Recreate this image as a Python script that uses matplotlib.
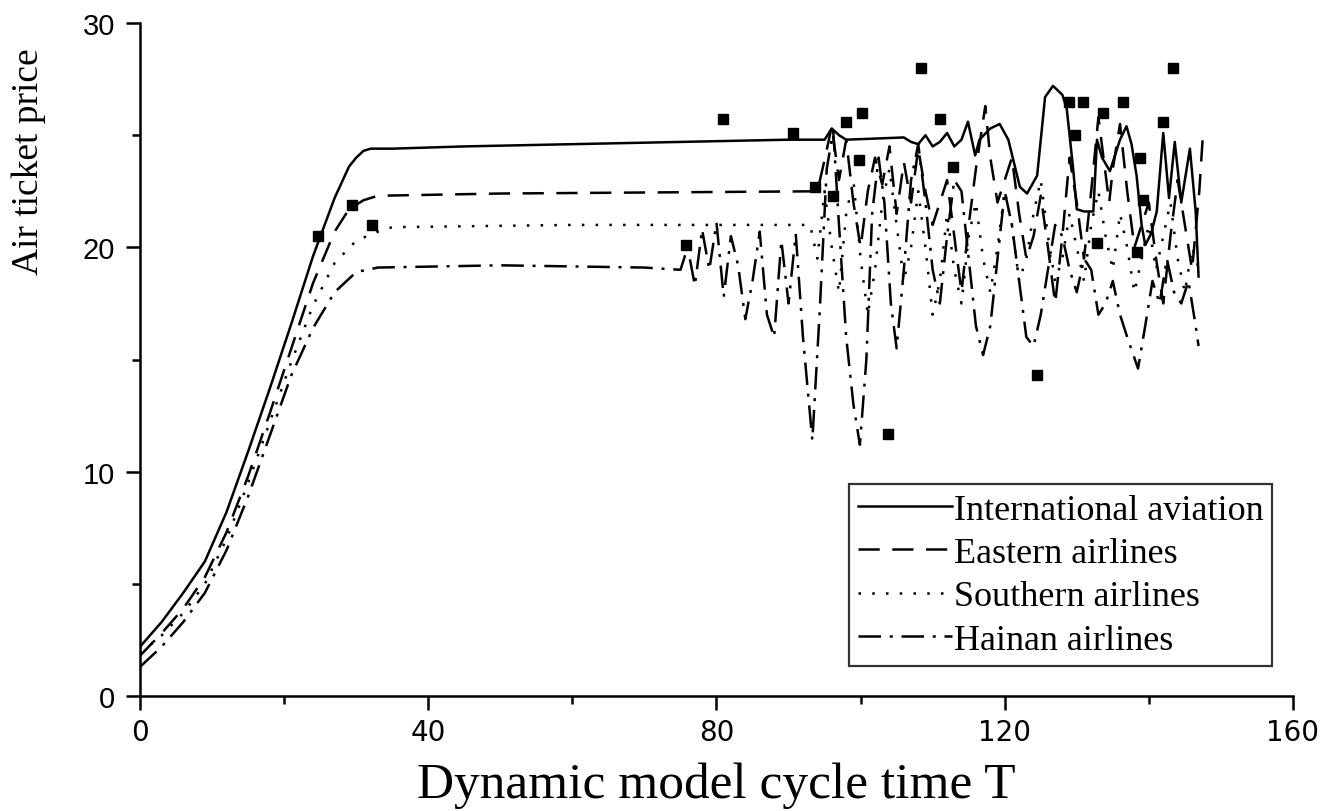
import numpy as np
import matplotlib
matplotlib.use("Agg")
from matplotlib import pyplot as plt

####### data #######

# International aviation (solid)
intl_x = [0, 3, 6, 9, 12, 15, 18, 21, 24, 27, 29, 30, 31, 32, 35, 45, 60, 75, 90, 95, 96, 97, 98,
          106, 107, 108, 109, 110, 111, 112, 113, 114, 114.9, 115.9, 116.5, 118, 119.3, 120.5,
          122.1, 123.1, 124.5, 125.6, 126.7, 128.0, 128.6, 129.5, 130.0, 131.0, 132.3, 132.8,
          133.5, 134.6, 136.0, 136.9, 137.6, 138.3, 139.0, 139.5, 140.3, 141.1, 142.0, 142.8,
          143.6, 144.5, 145.7, 146.5, 146.9]
intl_y = [2.2, 3.3, 4.6, 6.0, 8.2, 10.9, 13.7, 16.6, 19.6, 22.2, 23.6, 24.0, 24.3, 24.4, 24.4,
          24.5, 24.6, 24.7, 24.8, 24.8, 25.3, 25.0, 24.8,
          24.9, 24.7, 24.6, 25.0, 24.5, 24.7, 25.1, 24.5, 24.8, 25.6, 24.1, 24.8, 25.3, 25.5, 24.8,
          22.7, 22.4, 23.2, 26.7, 27.2, 26.8, 26.2, 23.5, 21.7, 21.6, 21.6, 24.8,
          24.0, 23.4, 24.8, 25.4, 24.6, 23.2, 21.0, 20.1, 20.6, 21.6, 25.1, 22.2,
          24.7, 22.0, 24.4, 21.6, 18.7]

# Eastern airlines (dashed)
east_x = [0, 3, 6, 9, 12, 15, 18, 21, 24, 27, 29, 31, 33, 50, 94, 95, 96, 97, 98, 99, 100, 101,
          102, 103, 104, 105, 106, 107, 108, 109, 110, 111, 112, 113, 114, 115, 116, 117.3, 118,
          119, 120, 121, 122, 123, 124, 125, 126, 127, 128, 129, 130, 131, 132, 133, 134.5, 135,
          136, 137, 138, 139, 140, 141, 142, 143, 144, 145, 146, 147, 147.5]
east_y = [1.8, 2.8, 3.9, 5.3, 7.3, 9.8, 12.6, 15.5, 18.4, 20.7, 21.7, 22.1, 22.3, 22.4, 22.5, 23.9,
          25.4, 23.0, 24.8, 22.0, 20.0, 22.5, 24.0, 22.8, 24.5, 21.5, 23.8, 22.0, 24.4, 22.5, 21.0,
          22.0, 23.0, 20.5, 18.0, 21.0, 23.5, 26.3, 24.0, 22.0, 23.0, 24.0, 21.5, 19.5, 20.5, 22.3,
          20.0, 17.5, 20.5, 24.0, 22.0, 19.5, 22.5, 25.8, 22.0, 23.5, 25.5, 22.5, 20.0, 21.0, 22.0,
          19.5, 17.5, 20.5, 23.0, 21.0, 19.0, 22.5, 25.0]

# Southern airlines (dotted)
south_x = [0, 3, 6, 9, 12, 15, 18, 21, 24, 27, 30, 33, 35, 60, 93, 94, 95, 96, 97, 98, 99, 100,
           101, 102, 103, 104, 105, 106, 107, 108, 109, 110, 111, 112, 113, 114, 115, 116, 117,
           118, 119, 120, 121, 122, 123, 124, 125, 126, 127, 128, 129, 130, 131, 132, 133, 134,
           135, 136, 137, 138, 139, 140, 141, 142, 143, 144, 145, 146, 147]
south_y = [1.9, 2.7, 3.7, 5.0, 7.0, 9.5, 12.2, 14.9, 17.4, 19.3, 20.3, 20.7, 20.9, 21.0, 21.0,
           19.5, 22.5, 20.0, 18.0, 21.5, 23.0, 19.5, 17.0, 19.0, 22.0, 23.5, 21.0, 18.5, 20.0,
           22.5, 20.0, 17.0, 18.5, 21.5, 19.0, 17.5, 20.5, 22.0, 19.5, 18.0, 20.0, 22.5, 21.0,
           18.5, 19.5, 21.5, 23.0, 20.5, 18.5, 19.5, 21.5, 20.0, 18.5, 21.0, 22.5, 20.5, 19.0,
           21.5, 20.0, 18.0, 19.5, 21.0, 19.0, 20.5, 22.0, 19.5, 18.0, 20.0, 19.0]

# Hainan airlines (dash-dot)
hain_x = [0, 3, 6, 9, 12, 15, 18, 21, 24, 27, 30, 33, 50, 70, 75, 76, 77, 78, 79, 80, 81, 82, 83,
          84, 85, 86, 87, 88, 89, 90, 91, 92, 93.3, 94.3, 95.3, 96.2, 97, 98, 99, 99.9, 100.8,
          101.6, 102.5, 103.3, 104.2, 105, 106, 107, 108, 109, 110, 111, 112, 113, 114, 115, 116,
          117, 118, 119, 120, 121, 122, 123, 124, 125, 126, 127, 128, 129, 130, 131, 132, 133,
          134, 135, 136, 137, 138.5, 139.5, 140.5, 141.5, 142.5, 143.5, 144.5, 145.5, 146.5, 146.9]
hain_y = [1.3, 2.2, 3.3, 4.6, 6.5, 8.9, 11.6, 14.3, 16.4, 18.0, 18.9, 19.1, 19.2, 19.1, 19.0,
          20.0, 18.3, 20.8, 19.0, 21.1, 17.8, 20.5, 19.2, 16.8, 18.5, 20.7, 17.0, 16.0, 20.3,
          17.5, 20.6, 16.0, 11.4, 17.0, 23.5, 25.2, 21.0, 16.0, 13.0, 11.2, 15.0,
          21.5, 24.0, 22.0, 17.5, 15.5, 19.0, 23.0, 24.6, 22.0, 19.0, 17.5, 20.5, 23.0, 22.5,
          19.5, 16.5, 15.2, 16.5, 19.5, 22.5, 21.0, 18.5, 16.0, 15.6, 17.0, 19.0, 21.0, 20.5,
          19.0, 18.0, 19.5, 19.0, 17.0, 17.5, 18.5, 17.0, 16.0, 14.6, 16.5, 18.5, 17.5, 19.5,
          18.0, 17.5, 18.5, 16.5, 15.6]

# square points
sq_x = [24.7, 29.4, 32.2, 75.8, 80.9, 90.6, 93.7, 96.2, 98.0, 100.2, 99.8, 103.8, 108.4, 111.0,
        112.8, 143.4, 128.9, 130.9, 136.4, 133.6, 129.8, 142.0, 138.8, 139.2, 132.8, 138.3, 124.5]
sq_y = [20.5, 21.9, 21.0, 20.1, 25.7, 25.1, 22.7, 22.3, 25.6, 26.0, 23.9, 11.7, 28.0, 25.7,
        23.6, 28.0, 26.5, 26.5, 26.5, 26.0, 25.0, 25.6, 24.0, 22.1, 20.2, 19.8, 14.3]

labels = ["International aviation", "Eastern airlines", "Southern airlines", "Hainan airlines"]

####### plotting #######

fig = plt.figure(figsize=(13.35, 8.12), dpi=100)
ax = fig.add_axes([0.1049, 0.1416, 0.8636, 0.8288])

lw = 1.8
ax.plot(intl_x, intl_y, '-', color='black', lw=lw, label=labels[0])
ax.plot(east_x, east_y, color='black', lw=lw, dashes=(8.5, 5), label=labels[1])
ax.plot(south_x, south_y, color='black', lw=lw, dashes=(1, 4.5), label=labels[2])
ax.plot(hain_x, hain_y, color='black', lw=lw, dashes=(9, 3.5, 1.2, 3.5), label=labels[3])
ax.plot(sq_x, sq_y, 's', color='black', markersize=6.5, linestyle='none')

ax.set_xlim(0, 160)
ax.set_ylim(0, 30)
ax.set_xticks([0, 40, 80, 120, 160])
ax.set_xticks([20, 60, 100, 140], minor=True)
ax.set_yticks([0, 10, 20, 30])
ax.set_yticks([5, 15, 25], minor=True)

for s in ['top', 'right']:
    ax.spines[s].set_visible(False)
for s in ['left', 'bottom']:
    ax.spines[s].set_linewidth(1.8)
ax.tick_params(which='major', direction='out', length=10, width=1.8)
ax.tick_params(which='minor', direction='out', length=6, width=1.8)
ax.tick_params(axis='x', pad=6)
ax.tick_params(axis='y', pad=8)

for t in ax.get_xticklabels():
    t.set_family(['Liberation Sans Narrow', 'DejaVu Sans'])
    t.set_fontsize(20)
for t in ax.get_yticklabels():
    t.set_family(['Liberation Sans', 'DejaVu Sans'])
    t.set_fontsize(21)

ax.set_xlabel("Dynamic model cycle time T", family='Liberation Serif', fontsize=37, labelpad=11)
ax.set_ylabel("Air ticket price", family='Liberation Serif', fontsize=27)
ax.yaxis.set_label_coords(-0.082, 0.795)

leg = ax.legend(loc='lower right', bbox_to_anchor=(0.982, 0.045), frameon=True, fancybox=False,
                edgecolor='black', prop={'family': 'Liberation Serif', 'size': 26},
                handlelength=2.6, handletextpad=0.05, labelspacing=0.28, borderpad=0.25,
                borderaxespad=0)
leg.get_frame().set_linewidth(1.6)

fig.savefig("out.png", dpi=100)
